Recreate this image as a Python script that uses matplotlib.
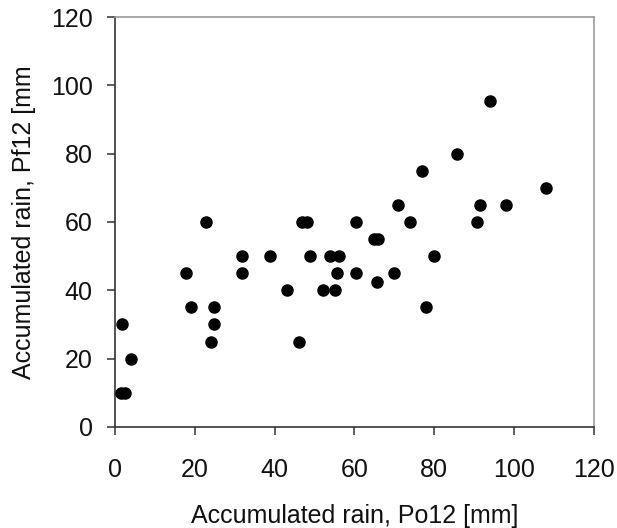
import matplotlib.pyplot as plt
import numpy as np

plt.rcParams['font.family'] = ['Liberation Sans', 'DejaVu Sans']

# accumulated rain Po12 (x) vs Pf12 (y), mm
po12 = [1.7, 4.0, 1.4, 2.5, 22.8, 17.8, 19.0, 24.9, 24.9, 24.1,
        31.8, 31.8, 38.8, 43.1, 46.1, 46.8, 48.0, 48.9, 52.2, 53.9,
        56.1, 55.0, 55.7, 60.5, 60.5, 70.8, 73.8, 64.9, 66.0, 65.6,
        69.8, 80.0, 77.9, 91.5, 97.9, 90.8, 94.0, 85.7, 76.9, 107.9]
pf12 = [30, 20, 10, 10, 60, 45, 35, 35, 30, 25,
        50, 45, 50, 40, 25, 60, 60, 50, 40, 50,
        50, 40, 45, 60, 45, 65, 60, 55, 55, 42.3,
        45, 50, 35, 65, 65, 60, 95.5, 80, 75, 70]

fig = plt.figure(figsize=(6.17, 5.28), dpi=100)
ax = fig.add_axes([0.1864, 0.1913, 0.7763, 0.7765])

ax.scatter(po12, pf12, s=64, color='black', zorder=3)

ax.set_xlim(0, 120)
ax.set_ylim(0, 120)
ax.set_xticks(np.arange(0, 121, 20))
ax.set_yticks(np.arange(0, 121, 20))

for side in ['left', 'bottom']:
    ax.spines[side].set_color('#333333')
    ax.spines[side].set_linewidth(1.2)
for side in ['top', 'right']:
    ax.spines[side].set_color('#999999')
    ax.spines[side].set_linewidth(1.2)

ax.tick_params(axis='x', direction='out', length=6, width=1.1, pad=16,
               labelsize=18, color='#333333', labelcolor='#111111')
ax.tick_params(axis='y', direction='out', length=6, width=1.1, pad=10,
               labelsize=18, color='#333333', labelcolor='#111111')

ax.set_xlabel('Accumulated rain, Po12 [mm]', fontsize=18, labelpad=16,
              color='#111111')
ax.set_ylabel('Accumulated rain, Pf12 [mm', fontsize=18, labelpad=11,
              color='#111111')

fig.savefig('out.png', dpi=100)
